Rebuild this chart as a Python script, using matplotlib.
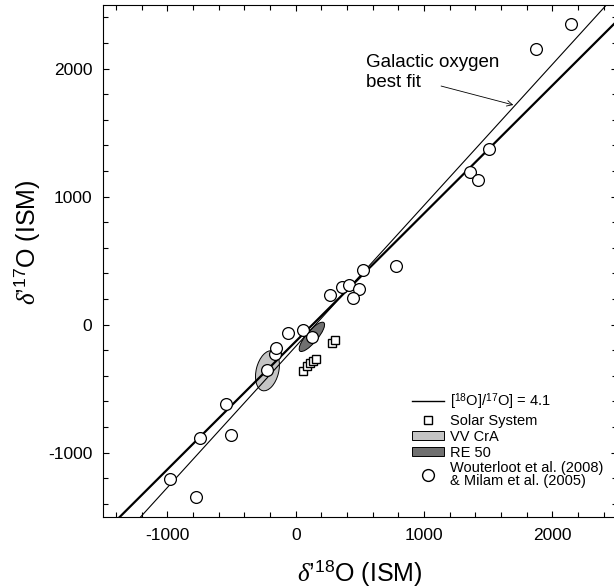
import matplotlib
matplotlib.use('Agg')
import matplotlib.pyplot as plt
from matplotlib.patches import Ellipse, Patch
from matplotlib.lines import Line2D
from matplotlib.ticker import MultipleLocator
import numpy as np

plt.rcParams['font.family'] = 'Liberation Sans'
plt.rcParams['mathtext.fontset'] = 'custom'
plt.rcParams['mathtext.rm'] = 'Liberation Sans'
plt.rcParams['mathtext.it'] = 'Liberation Serif:italic'
plt.rcParams['mathtext.bf'] = 'Liberation Sans:bold'
plt.rcParams['axes.unicode_minus'] = False

#######################################################
# Data
#######################################################
# Wouterloot et al. (2008) & Milam et al. (2005)
ism_d18 = [-979, -779, -743, -509, -545, -221, -161, -153, -60, 53, 125,
           267, 358, 412, 496, 449, 522, 781, 1361, 1419, 1506, 1869, 2146]
ism_d17 = [-1203, -1349, -882, -864, -621, -353, -229, -184, -63, -44, -93,
           235, 295, 311, 279, 206, 425, 462, 1195, 1134, 1370, 2156, 2349]

# Solar System
sol_d18 = [57, 86, 111, 137, 156, 279, 302]
sol_d17 = [-360, -326, -300, -282, -266, -141, -117]

# ellipses: centre x, centre y, width, height, angle
vvcra = [-221, -360, 175, 320, -14]
re50 = [125, -95, 290, 88, 50]

# [18O]/[17O] = 4.1 line (slope, offset)
ratio_slope = 1.0
ratio_offset = -130
# galactic oxygen best fit (slope, offset)
fit_slope = 1.102
fit_offset = -169

x_line = np.array([-1500, 2500])

###################################################
# Plot
###################################################
fig = plt.figure(figsize=(6.14, 5.87), dpi=100)
ax = fig.add_axes([0.1683, 0.1198, 0.836, 0.8722])

ax.add_patch(Ellipse((vvcra[0], vvcra[1]), vvcra[2], vvcra[3], angle=vvcra[4],
                     facecolor='#c4c4c4', edgecolor='black', lw=0.7, zorder=2))
ax.add_patch(Ellipse((re50[0], re50[1]), re50[2], re50[3], angle=re50[4],
                     facecolor='#707070', edgecolor='black', lw=0.7, zorder=2))

ax.plot(x_line, ratio_slope * x_line + ratio_offset, color='black', lw=1.6, zorder=3)
ax.plot(x_line, fit_slope * x_line + fit_offset, color='black', lw=0.8, zorder=3)

ax.plot(sol_d18, sol_d17, 's', ms=5.5, mfc='white', mec='black', mew=1.0,
        ls='none', zorder=4)
ax.plot(ism_d18, ism_d17, 'o', ms=8.5, mfc='white', mec='black', mew=0.9,
        ls='none', zorder=5)

ax.text(545, 2115, 'Galactic oxygen\nbest fit', fontsize=13.5, va='top', ha='left')
ax.annotate('', xy=(1716, 1711), xytext=(1111, 1870),
            arrowprops=dict(arrowstyle='->', lw=0.6, color='black'))

ax.set_xlim(-1500, 2500)
ax.set_ylim(-1500, 2500)
ax.xaxis.set_major_locator(MultipleLocator(1000))
ax.xaxis.set_minor_locator(MultipleLocator(200))
ax.yaxis.set_major_locator(MultipleLocator(1000))
ax.yaxis.set_minor_locator(MultipleLocator(200))
ax.tick_params(which='both', direction='in', top=True, right=True, width=0.8)
ax.tick_params(which='major', length=4.5, labelsize=12.5, pad=8)
ax.tick_params(which='minor', length=3.5)
for s in ax.spines.values():
    s.set_linewidth(0.8)

ax.set_xlabel(r"$\delta$" + "\u2019" + r"$^{18}$O (ISM)", fontsize=18)
ax.set_ylabel(r"$\delta$" + "\u2019" + r"$^{17}$O (ISM)", fontsize=18)
ax.xaxis.set_label_coords(0.5, -0.08)
ax.yaxis.set_label_coords(-0.12, 0.536)

handles = [Line2D([], [], color='black', lw=1.0),
           Line2D([], [], marker='s', ms=5.5, mfc='white', mec='black', ls='none'),
           Patch(facecolor='#c4c4c4', edgecolor='black', lw=0.7),
           Patch(facecolor='#707070', edgecolor='black', lw=0.7),
           Line2D([], [], marker='o', ms=8.5, mfc='white', mec='black', ls='none')]
labels = [r'[$^{18}$O]/$^{17}$O] = 4.1', 'Solar System', 'VV CrA', 'RE 50',
          'Wouterloot et al. (2008)\n& Milam et al. (2005)']
leg = ax.legend(handles, labels, loc='upper left', bbox_to_anchor=(0.6007, 0.2455),
                frameon=False, fontsize=10.5, borderpad=0, borderaxespad=0,
                handlelength=2.2, handleheight=0.62, handletextpad=0.45,
                labelspacing=0.13)
for t in leg.get_texts():
    t.set_linespacing(0.9)

fig.savefig('out.png', dpi=100)
